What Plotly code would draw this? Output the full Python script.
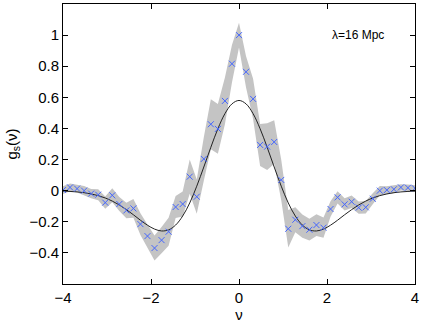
import plotly.graph_objects as go

# nu grid (step 0.16)
nu = [-4.00, -3.84, -3.68, -3.52, -3.36, -3.20, -3.04, -2.88, -2.72, -2.56,
      -2.40, -2.24, -2.08, -1.92, -1.76, -1.60, -1.44, -1.28, -1.12, -0.96,
      -0.80, -0.64, -0.48, -0.32, -0.16, 0.00, 0.16, 0.32, 0.48, 0.64,
      0.80, 0.96, 1.12, 1.28, 1.44, 1.60, 1.76, 1.92, 2.08, 2.24,
      2.40, 2.56, 2.72, 2.88, 3.04, 3.20, 3.36, 3.52, 3.68, 3.84, 4.00]

# measured g_s (blue crosses)
g_meas = [0.004, 0.021, 0.013, 0.000, -0.019, -0.026, -0.077, -0.030, -0.086, -0.127,
          -0.114, -0.215, -0.292, -0.369, -0.318, -0.264, -0.105, -0.086, 0.090, -0.039,
          0.204, 0.427, 0.397, 0.577, 0.816, 1.000, 0.764, 0.590, 0.294, 0.283,
          0.313, 0.069, -0.245, -0.187, -0.228, -0.251, -0.221, -0.238, -0.118, -0.043,
          -0.088, -0.071, -0.109, -0.107, -0.052, 0.000, 0.004, 0.009, 0.021, 0.019, 0.015]

# half width of the grey band
g_err = [0.025, 0.025, 0.025, 0.03, 0.03, 0.035, 0.04, 0.045, 0.045, 0.05,
         0.06, 0.07, 0.075, 0.08, 0.085, 0.09, 0.07, 0.08, 0.11, 0.11,
         0.14, 0.16, 0.16, 0.15, 0.12, 0.08, 0.10, 0.13, 0.135, 0.15,
         0.14, 0.13, 0.12, 0.08, 0.075, 0.07, 0.07, 0.065, 0.05, 0.04,
         0.04, 0.04, 0.04, 0.04, 0.035, 0.03, 0.025, 0.025, 0.02, 0.02, 0.02]

# theory curve (black line)
g_theory = [-0.003, -0.005, -0.008, -0.013, -0.021, -0.032, -0.047, -0.067, -0.092, -0.122,
            -0.155, -0.190, -0.222, -0.247, -0.259, -0.252, -0.221, -0.163, -0.079, 0.029,
            0.152, 0.279, 0.398, 0.495, 0.558, 0.580, 0.558, 0.495, 0.398, 0.279,
            0.152, 0.029, -0.079, -0.163, -0.221, -0.252, -0.259, -0.247, -0.222, -0.190,
            -0.155, -0.122, -0.092, -0.067, -0.047, -0.032, -0.021, -0.013, -0.008, -0.005, -0.003]

upper = [m + e for m, e in zip(g_meas, g_err)]
lower = [m - e for m, e in zip(g_meas, g_err)]

fig = go.Figure()

fig.add_trace(go.Scatter(
    x=nu + nu[::-1], y=upper + lower[::-1],
    fill='toself', fillcolor='rgb(196,196,196)',
    line=dict(width=0), mode='lines', hoverinfo='skip'
))
fig.add_trace(go.Scatter(
    x=nu, y=g_theory, mode='lines', line=dict(color='#222222', width=1, shape='spline')
))
fig.add_trace(go.Scatter(
    x=nu, y=g_meas, mode='markers',
    marker=dict(symbol='x-thin', size=6, line=dict(color='#4466ff', width=1), color='#4466ff')
))

fig.add_annotation(x=2.07, y=1.0, text="λ=16 Mpc", showarrow=False, xanchor='left',
                   font=dict(size=12, color='black'))

axis_common = dict(showline=True, linecolor='black', linewidth=1, mirror='ticks',
                   ticks='inside', ticklen=5, tickcolor='black', showgrid=False,
                   zeroline=False, tickfont=dict(size=15, color='black'))

fig.update_xaxes(range=[-4, 4], tickvals=[-4, -2, 0, 2, 4],
                 ticktext=['−4', '−2', '0', '2', '4'],
                 title=dict(text='ν', font=dict(size=15, color='black'), standoff=2),
                 **axis_common)
fig.update_yaxes(range=[-0.6, 1.2], tickvals=[-0.4, -0.2, 0, 0.2, 0.4, 0.6, 0.8, 1],
                 ticktext=['−0.4', '−0.2', '0', '0.2', '0.4', '0.6', '0.8', '1'],
                 title=dict(text='g<sub>s</sub>(ν)', font=dict(size=15, color='black'), standoff=8),
                 **axis_common)

fig.update_layout(
    width=425, height=323,
    margin=dict(l=63, r=10, t=4, b=39),
    plot_bgcolor='white', paper_bgcolor='white',
    showlegend=False,
    font=dict(family='Liberation Sans, Arial, sans-serif')
)

# drop the default page margin so the figure sits at the window's corner
fig.write_html("out.html", config={'displayModeBar': False},
               post_script="document.body.style.margin='0';")
